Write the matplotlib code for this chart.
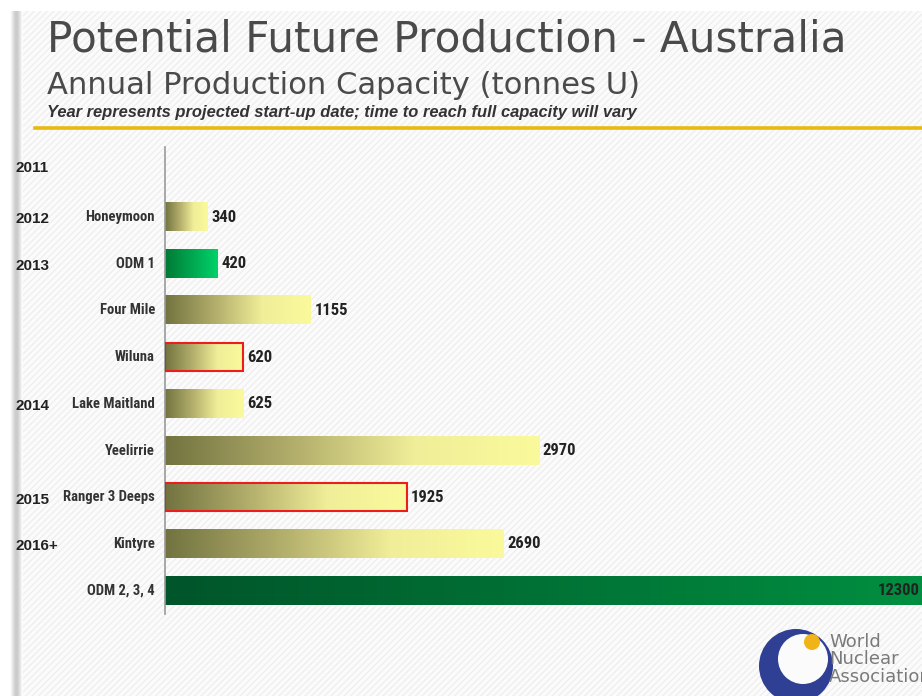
import numpy as np
import matplotlib.pyplot as plt
import matplotlib.font_manager as fm
from matplotlib.patches import Rectangle, Circle
from matplotlib.colors import LinearSegmentedColormap

mines = ["Honeymoon", "ODM 1", "Four Mile", "Wiluna", "Lake Maitland",
         "Yeelirrie", "Ranger 3 Deeps", "Kintyre", "ODM 2, 3, 4"]
capacity = [340, 420, 1155, 620, 625, 2970, 1925, 2690, 12300]
years = ["2011", "2012", "2013", "2014", "2015", "2016+"]
year_rows = [0, 1, 2, 5, 7, 8]
green_mines = ["ODM 1", "ODM 2, 3, 4"]
outlined = ["Wiluna", "Ranger 3 Deeps"]

# pick a condensed family that actually ships a bold face
candidates = ["Roboto Condensed", "Archivo Narrow", "Fira Sans Condensed",
              "IBM Plex Sans Condensed", "Barlow Semi Condensed", "PT Sans Narrow"]
bold_faces = {f.name for f in fm.fontManager.ttflist
              if isinstance(f.weight, int) and f.weight >= 700}
narrow = [c for c in candidates if c in bold_faces][:1] + ["DejaVu Sans"]

W, H = 922, 696
fig = plt.figure(figsize=(W / 100, H / 100), dpi=100)
fig.patch.set_facecolor("white")

# striped slide background
bg = fig.add_axes([0, 0, 1, 1], zorder=-10)
bg.set_xlim(0, W)
bg.set_ylim(H, 0)
bg.axis("off")
bg.add_patch(Rectangle((10, 11), W - 10, H - 11, color="#fbfbfb", lw=0))
for s in np.arange(-H, W + H, 6.5):
    bg.plot([s, s + H], [H, 0], color="#ededed", lw=0.8, zorder=1)
bg.add_patch(Rectangle((0, 0), W, 11, color="white", lw=0, zorder=2))
bg.add_patch(Rectangle((0, 0), 10, H, color="white", lw=0, zorder=2))
side = np.linspace(0, 1, 20)[None, :]
side = np.sin(side * np.pi) * 0.5
bg.imshow(side, cmap="Greys", vmin=0, vmax=1.6, extent=(10, 22, H, 11),
          aspect="auto", zorder=3)
bg.plot([35, W], [128, 128], color="#e8b90f", lw=2.6, zorder=3)

fig.text(47 / W, 1 - 39 / H, "Potential Future Production - Australia",
         fontsize=30.3, color="#4a4a4a", va="center", ha="left")
fig.text(47 / W, 1 - 85 / H, "Annual Production Capacity (tonnes U)",
         fontsize=22.1, color="#4a4a4a", va="center", ha="left")
fig.text(47 / W, 1 - 113 / H,
         "Year represents projected start-up date; time to reach full capacity will vary",
         fontsize=11.9, color="#333333", va="center", ha="left",
         family="Liberation Sans", weight="bold", style="italic")

# bar chart
ax = fig.add_axes([165 / W, 82 / H, 1 - 165 / W, (614 - 147) / H])
ax.patch.set_alpha(0)
olive = LinearSegmentedColormap.from_list("olive", ["#727340", "#b0ac6a", "#f0ee98", "#fafa9c"])
green1 = LinearSegmentedColormap.from_list("green1", ["#007a35", "#00d26a"])
green2 = LinearSegmentedColormap.from_list("green2", ["#00552a", "#00cc58"])
grad = np.linspace(0, 1, 256)[None, :]
h = 0.6
xmax = 6010

for i, (name, val) in enumerate(zip(mines, capacity)):
    row = i + 1
    if name == "ODM 1":
        cmap = green1
    elif name in green_mines:
        cmap = green2
    else:
        cmap = olive
    ax.imshow(grad, cmap=cmap, extent=(0, val, row + h / 2, row - h / 2),
              aspect="auto", zorder=2)
    if name in outlined:
        ax.add_patch(Rectangle((0, row - h / 2), val, h, fill=False,
                               edgecolor="#ee1c1c", lw=1.5, zorder=3))
    ax.text(-80, row, name, ha="right", va="center", fontsize=10.5,
            weight="bold", color="#333333", family=narrow)
    if val < xmax:
        ax.text(val + 30, row, str(val), ha="left", va="center", fontsize=12,
                weight="bold", color="#222222", family=narrow)
    else:
        ax.text(xmax - 20, row, str(val), ha="right", va="center", fontsize=12,
                weight="bold", color="#222222", family=narrow)

for yr, row in zip(years, year_rows):
    ax.text(-1190, row + (0.05 if row else -0.05), yr, ha="left", va="center",
            fontsize=11, weight="bold", color="#222222", family="Liberation Sans",
            clip_on=False)

ax.set_xlim(0, xmax)
ax.set_ylim(9.5, -0.5)
for sp in ["top", "right", "bottom"]:
    ax.spines[sp].set_visible(False)
ax.spines["left"].set_color("#9a9a9a")
ax.spines["left"].set_linewidth(1.2)
ax.set_xticks([])
ax.set_yticks([])

# logo
lg = fig.add_axes([0, 0, 1, 1], zorder=5)
lg.set_xlim(0, W)
lg.set_ylim(H, 0)
lg.axis("off")
lg.patch.set_alpha(0)
lg.add_patch(Circle((796, 666), 37, color="#2f3f93", lw=0))
lg.add_patch(Circle((803, 659), 25, color="#fbfbfb", lw=0))
lg.add_patch(Circle((812, 642), 8, color="#f0b418", lw=0))
lg.text(829, 633, "World\nNuclear\nAssociation", fontsize=13, color="#7a7a7a",
        va="top", ha="left", linespacing=0.95)

fig.savefig("out.png", dpi=100)
